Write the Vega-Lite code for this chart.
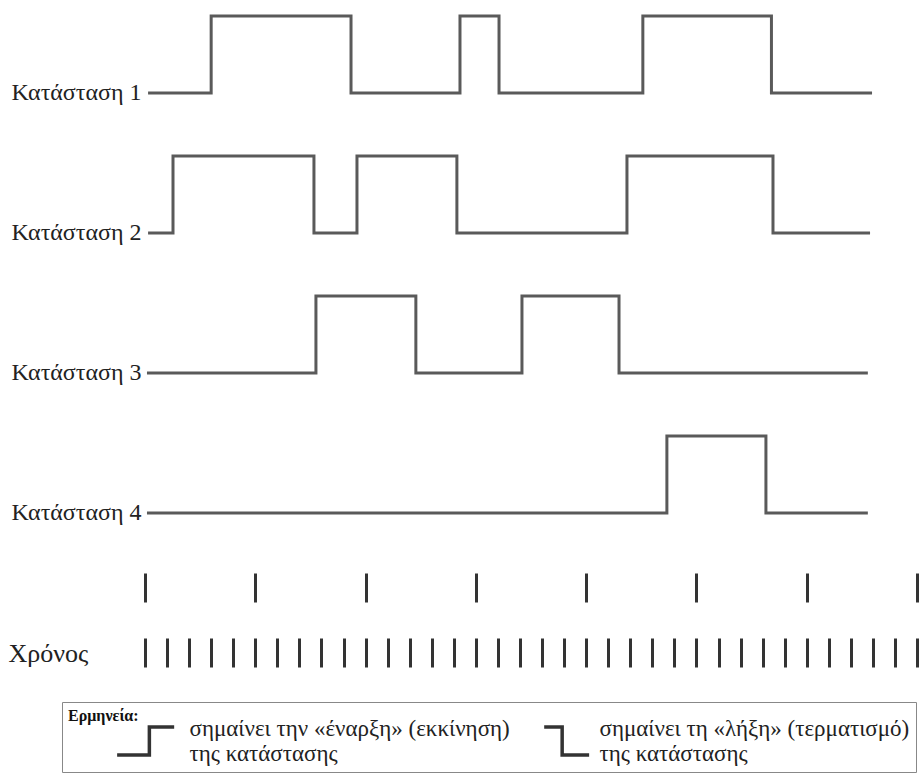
{
  "$schema": "https://vega.github.io/schema/vega-lite/v6.json",
  "width": 921,
  "height": 779,
  "autosize": "none",
  "padding": 0,
  "background": "white",
  "config": {"view": {"stroke": null}, "font": "Liberation Serif, Times New Roman, serif"},
  "datasets": {
    "states": [
      {"state": "Κατάσταση 1", "t": 0.14, "v": 0},
      {"state": "Κατάσταση 1", "t": 3.0, "v": 1},
      {"state": "Κατάσταση 1", "t": 9.34, "v": 0},
      {"state": "Κατάσταση 1", "t": 14.28, "v": 1},
      {"state": "Κατάσταση 1", "t": 16.05, "v": 0},
      {"state": "Κατάσταση 1", "t": 22.57, "v": 1},
      {"state": "Κατάσταση 1", "t": 28.4, "v": 0},
      {"state": "Κατάσταση 1", "t": 32.96, "v": 0},
      {"state": "Κατάσταση 2", "t": 0.14, "v": 0},
      {"state": "Κατάσταση 2", "t": 1.27, "v": 1},
      {"state": "Κατάσταση 2", "t": 7.66, "v": 0},
      {"state": "Κατάσταση 2", "t": 9.61, "v": 1},
      {"state": "Κατάσταση 2", "t": 14.14, "v": 0},
      {"state": "Κατάσταση 2", "t": 21.85, "v": 1},
      {"state": "Κατάσταση 2", "t": 28.47, "v": 0},
      {"state": "Κατάσταση 2", "t": 32.87, "v": 0},
      {"state": "Κατάσταση 3", "t": 0.09, "v": 0},
      {"state": "Κατάσταση 3", "t": 7.75, "v": 1},
      {"state": "Κατάσταση 3", "t": 12.28, "v": 0},
      {"state": "Κατάσταση 3", "t": 17.09, "v": 1},
      {"state": "Κατάσταση 3", "t": 21.49, "v": 0},
      {"state": "Κατάσταση 3", "t": 32.77, "v": 0},
      {"state": "Κατάσταση 4", "t": 0.09, "v": 0},
      {"state": "Κατάσταση 4", "t": 23.66, "v": 1},
      {"state": "Κατάσταση 4", "t": 28.15, "v": 0},
      {"state": "Κατάσταση 4", "t": 32.77, "v": 0}
    ],
    "legend": [
      {"meaning": "σημαίνει την «έναρξη» (εκκίνηση)|της κατάστασης"},
      {"meaning": "σημαίνει τη «λήξη» (τερματισμό)|της κατάστασης"}
    ]
  },
  "layer": [
    {
      "data": {"name": "states"},
      "transform": [{"filter": "datum.state == 'Κατάσταση 1' || datum.state == 'Κατάσταση 2'"}],
      "mark": {"type": "line", "interpolate": "step-after", "stroke": "#5a5a5a", "strokeWidth": 3, "strokeJoin": "miter"},
      "encoding": {
        "x": {
          "field": "t", "type": "quantitative",
          "scale": {"domain": [-6.573, 35.18], "nice": false, "zero": false},
          "axis": {"orient": "top", "offset": -602, "values": [0, 5, 10, 15, 20, 25, 30, 35], "tickSize": 29, "tickWidth": 3, "tickColor": "#333", "domain": false, "labels": false, "grid": false, "title": null}
        },
        "y": {
          "field": "state", "type": "nominal",
          "scale": {"domain": ["Κατάσταση 1", "Κατάσταση 2", "Κατάσταση 3", "Κατάσταση 4"], "range": [93, 653], "paddingInner": 0, "paddingOuter": 0},
          "axis": {"orient": "left", "offset": -141, "labelOffset": -70, "domain": false, "ticks": false, "grid": false, "labelPadding": 0, "labelFont": "Liberation Serif, Times New Roman, serif", "labelFontSize": 24, "labelColor": "#222", "labelAlign": "right", "labelBaseline": "middle", "title": null}
        },
        "yOffset": {"field": "v", "type": "quantitative", "scale": {"domain": [0, 1], "range": [0, -77]}},
        "detail": {"field": "state"},
        "order": {"field": "t", "type": "quantitative"}
      }
    },
    {
      "data": {"name": "states"},
      "transform": [{"filter": "datum.state == 'Κατάσταση 3' || datum.state == 'Κατάσταση 4'"}],
      "mark": {"type": "line", "interpolate": "step-after", "stroke": "#5a5a5a", "strokeWidth": 3, "strokeJoin": "miter"},
      "encoding": {
        "x": {
          "field": "t", "type": "quantitative",
          "axis": {"orient": "top", "offset": -667, "values": [0, 1, 2, 3, 4, 5, 6, 7, 8, 9, 10, 11, 12, 13, 14, 15, 16, 17, 18, 19, 20, 21, 22, 23, 24, 25, 26, 27, 28, 29, 30, 31, 32, 33, 34, 35], "tickSize": 29, "tickWidth": 3, "tickColor": "#333", "domain": false, "labels": false, "grid": false,
            "title": "Χρόνος", "titleX": 8, "titleY": -14, "titleAlign": "left", "titleBaseline": "middle", "titleAngle": 0, "titleFont": "Liberation Serif, Times New Roman, serif", "titleFontSize": 26, "titleFontWeight": "normal", "titleColor": "#222"}
        },
        "y": {
          "field": "state", "type": "nominal",
          "axis": {"orient": "left", "offset": -141, "labelOffset": -70, "domain": false, "ticks": false, "grid": false, "labelPadding": 0, "labelFont": "Liberation Serif, Times New Roman, serif", "labelFontSize": 24, "labelColor": "#222", "labelAlign": "right", "labelBaseline": "middle", "title": null}
        },
        "yOffset": {"field": "v", "type": "quantitative"},
        "detail": {"field": "state"},
        "order": {"field": "t", "type": "quantitative"}
      }
    },
    {
      "data": {"name": "legend"},
      "mark": {"type": "point", "opacity": 0, "filled": false},
      "encoding": {
        "shape": {
          "field": "meaning", "type": "nominal",
          "scale": {"domain": ["σημαίνει την «έναρξη» (εκκίνηση)|της κατάστασης", "σημαίνει τη «λήξη» (τερματισμό)|της κατάστασης"], "range": ["M-1.77,0.45H-0.73V-0.45H0.07", "M-1.22,-0.45H-0.64V0.45H0.23"]},
          "legend": {
            "orient": "none", "legendX": 62, "legendY": 702, "direction": "horizontal", "columns": 2,
            "title": "Ερμηνεία:", "titleOrient": "left", "titleBaseline": "top", "titleFont": "Liberation Serif, Times New Roman, serif", "titleFontSize": 16, "titleFontWeight": "bold", "titleColor": "#111", "titlePadding": 0, "titleAnchor": "start",
            "strokeColor": "#888", "fillColor": "white", "padding": 6,
            "symbolSize": 3844, "symbolStrokeWidth": 3.5, "symbolStrokeColor": "#333", "symbolFillColor": "transparent", "symbolOpacity": 1, "symbolOffset": 0,
            "labelExpr": "split(datum.label, '|')", "labelFont": "Liberation Serif, Times New Roman, serif", "labelFontSize": 23, "labelColor": "#222", "labelOffset": -15.5, "labelLimit": 600, "columnPadding": 27, "labelBaseline": "bottom"
          }
        }
      }
    }
  ],
  "resolve": {"axis": {"x": "independent"}}
}
